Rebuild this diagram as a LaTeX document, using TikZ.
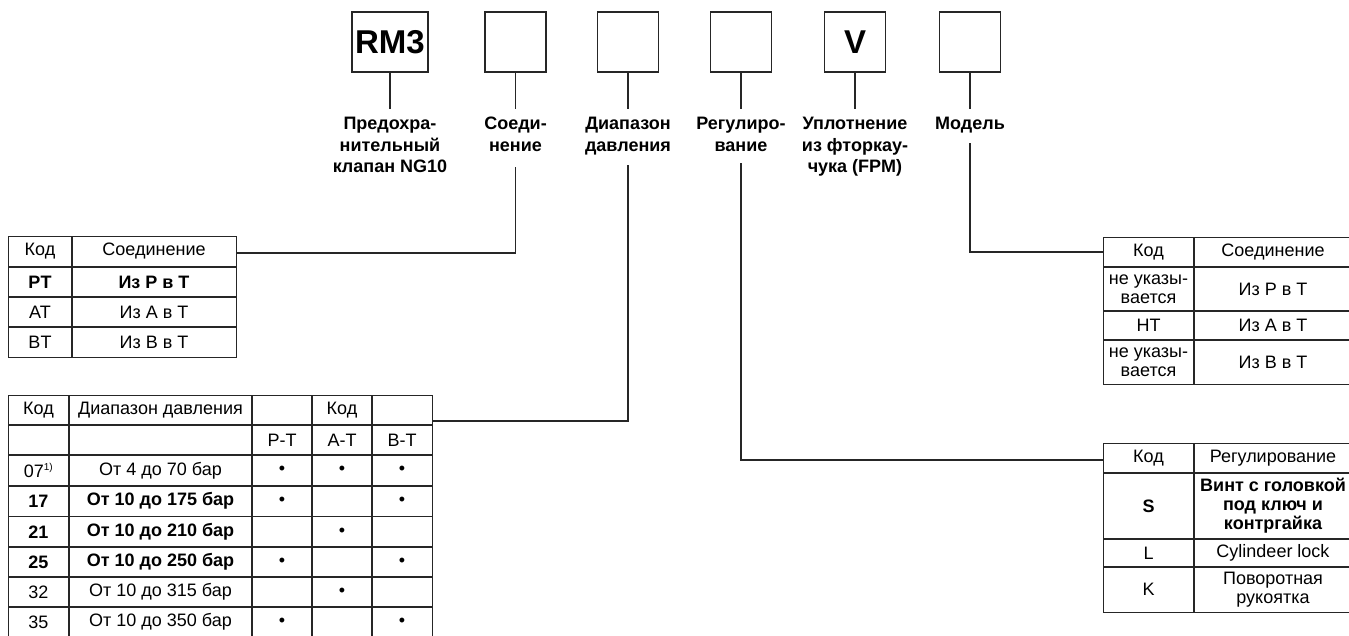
\documentclass[tikz,border=0pt]{standalone}
\usepackage{fontspec}
\setmainfont{Liberation Sans}
\usetikzlibrary{calc}
\tikzset{
  ln/.style={line width=1.1pt, draw=black!85},
  topbox/.style={draw=black!85, line width=1.1pt, minimum height=60pt, minimum width=61pt, inner sep=0pt},
  lbl/.style={font=\bfseries\fontsize{18}{21.5}\selectfont, align=center, inner sep=0pt, anchor=north},
  frame/.style={draw=black!85, line width=1.1pt, inner sep=0pt, anchor=north west},
  cell/.style={font=\fontsize{18}{19}\selectfont, align=center, inner sep=0pt},
  bcell/.style={font=\bfseries\fontsize{18}{19}\selectfont, align=center, inner sep=0pt},
  big/.style={font=\bfseries\fontsize{33}{36}\selectfont},
}
\begin{document}
\begin{tikzpicture}[x=1pt,y=-1pt]
\useasboundingbox (0,0) rectangle (1349,635);

% top boxes
\node[topbox, minimum width=76pt, big] (b1) at (390,42) {RM3};
\node[topbox] (b2) at (515.5,42) {};
\node[topbox] (b3) at (628,42) {};
\node[topbox] (b4) at (741,42) {};
\node[topbox, big] (b5) at (855,42) {V};
\node[topbox] (b6) at (970,42) {};

% labels
\node[lbl] (l1) at (390,117) {Предохра-\\нительный\\клапан NG10};
\node[lbl] (l2) at (515.5,117) {Соеди-\\нение};
\node[lbl] (l3) at (628,117) {Диапазон\\давления};
\node[lbl] (l4) at (741,117) {Регулиро-\\вание};
\node[lbl] (l5) at (855,117) {Уплотнение\\из фторкау-\\чука (FPM)};
\node[lbl] (l6) at (970,117) {Модель};

% stems under boxes
\foreach \i in {1,...,6} {
  \coordinate (s\i) at ($(b\i.south)+(0,36)$);
  \draw[ln] (b\i.south) -- (s\i);
}

% ---------- table 1 (connection) ----------
\node[frame, minimum width=228pt, minimum height=121pt] (t1) at (8,236) {};
\draw[ln] (72,236) -- (72,357);
\foreach \y in {267,297,327} \draw[ln] (8,\y) -- (236,\y);
\node[cell] (t1a) at (40,251.5) {Код};
\node[cell] (t1b) at (154,251.5) {Соединение};
\node[bcell] (t1c) at (40,282) {PT};
\node[bcell] (t1d) at (154,282) {Из P в T};
\node[cell] (t1e) at (40,312) {AT};
\node[cell] (t1f) at (154,312) {Из A в T};
\node[cell] (t1g) at (40,342) {BT};
\node[cell] (t1h) at (154,342) {Из B в T};

% ---------- table 2 (pressure range) ----------
\node[frame, minimum width=424pt, minimum height=243pt] (t2) at (8,395) {};
\foreach \x in {69,252,312,372} \draw[ln] (\x,395) -- (\x,638);
\foreach \y in {425,455,486,516.5,547,577,607} \draw[ln] (8,\y) -- (432,\y);
\node[cell] (t2a) at (38.5,410) {Код};
\node[cell] (t2b) at (160.5,410) {Диапазон давления};
\node[cell] (t2c) at (342,410) {Код};
\node[cell] (t2d) at (282,440) {P-T};
\node[cell] (t2e) at (342,440) {A-T};
\node[cell] (t2f) at (402,440) {B-T};
% rows
\node[cell] (r1a) at (38.5,470.5) {07\textsuperscript{\fontsize{10}{10}\selectfont 1)}};
\node[cell] (r1b) at (160.5,470.5) {От 4 до 70 бар};
\node[cell] (r1c) at (282,470.5) {•};
\node[cell] (r1d) at (342,470.5) {•};
\node[cell] (r1e) at (402,470.5) {•};
\node[bcell] (r2a) at (38.5,501) {17};
\node[bcell] (r2b) at (160.5,501) {От 10 до 175 бар};
\node[cell] (r2c) at (282,501) {•};
\node[cell] (r2e) at (402,501) {•};
\node[bcell] (r3a) at (38.5,531.8) {21};
\node[bcell] (r3b) at (160.5,531.8) {От 10 до 210 бар};
\node[cell] (r3d) at (342,531.8) {•};
\node[bcell] (r4a) at (38.5,562) {25};
\node[bcell] (r4b) at (160.5,562) {От 10 до 250 бар};
\node[cell] (r4c) at (282,562) {•};
\node[cell] (r4e) at (402,562) {•};
\node[cell] (r5a) at (38.5,592) {32};
\node[cell] (r5b) at (160.5,592) {От 10 до 315 бар};
\node[cell] (r5d) at (342,592) {•};
\node[cell] (r6a) at (38.5,622) {35};
\node[cell] (r6b) at (160.5,622) {От 10 до 350 бар};
\node[cell] (r6c) at (282,622) {•};
\node[cell] (r6e) at (402,622) {•};

% ---------- right table 1 (model) ----------
\node[frame, minimum width=250pt, minimum height=147pt] (t3) at (1103,237) {};
\draw[ln] (1194,237) -- (1194,384);
\foreach \y in {267,311,340} \draw[ln] (1103,\y) -- (1353,\y);
\node[cell] (t3a) at (1148.5,252) {Код};
\node[cell] (t3b) at (1273,252) {Соединение};
\node[cell] (t3c) at (1148.5,289) {не указы-\\вается};
\node[cell] (t3d) at (1273,289) {Из P в T};
\node[cell] (t3e) at (1148.5,325.5) {HT};
\node[cell] (t3f) at (1273,325.5) {Из A в T};
\node[cell] (t3g) at (1148.5,362) {не указы-\\вается};
\node[cell] (t3h) at (1273,362) {Из B в T};

% ---------- right table 2 (adjustment) ----------
\node[frame, minimum width=250pt, minimum height=169pt] (t4) at (1103,443) {};
\draw[ln] (1194,443) -- (1194,612);
\foreach \y in {473,539,567} \draw[ln] (1103,\y) -- (1353,\y);
\node[cell] (t4a) at (1148.5,458) {Код};
\node[cell] (t4b) at (1273,458) {Регулирование};
\node[bcell] (t4c) at (1148.5,506) {S};
\node[bcell] (t4d) at (1273,506) {Винт с головкой\\под ключ и\\контргайка};
\node[cell] (t4e) at (1148.5,553) {L};
\node[cell] (t4f) at (1273,553) {Cylindeer lock};
\node[cell] (t4g) at (1148.5,589.5) {K};
\node[cell] (t4h) at (1273,589.5) {Поворотная\\рукоятка};

% ---------- connectors ----------
\coordinate (u2) at (515.5,167);
\coordinate (u3) at (628,165);
\coordinate (u4) at (741,163);
\coordinate (u6) at (970,143);
\coordinate (p1) at ($(t1.north east)+(0,17)$);
\coordinate (p2) at ($(t2.north east)+(0,26)$);
\coordinate (p3) at ($(t3.north west)+(0,15)$);
\coordinate (p4) at ($(t4.north west)+(0,17)$);
\draw[ln] (u2) |- (p1);
\draw[ln] (u3) |- (p2);
\draw[ln] (u4) |- (p4);
\draw[ln] (u6) |- (p3);
\end{tikzpicture}
\end{document}
